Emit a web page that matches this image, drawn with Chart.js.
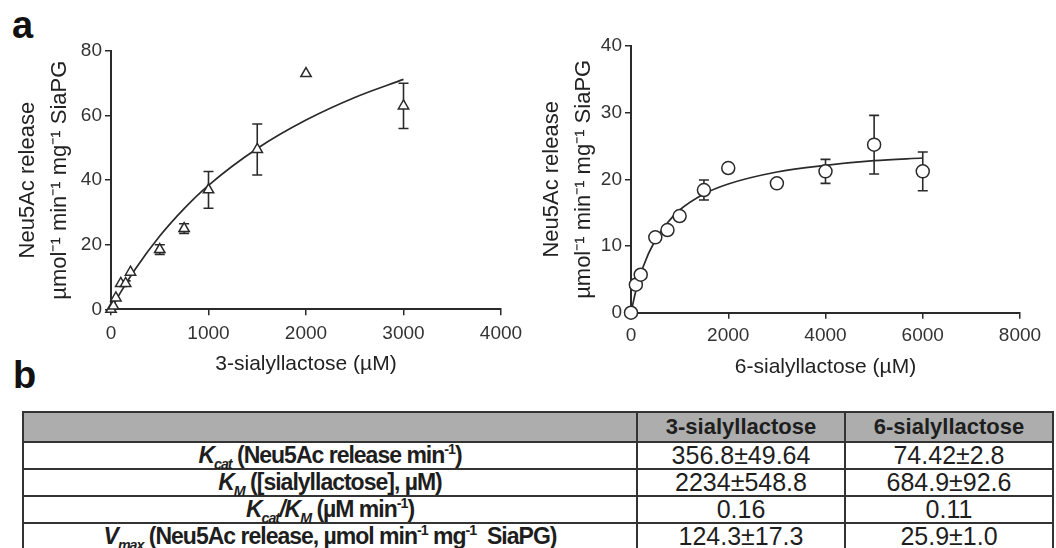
<!DOCTYPE html>
<html>
<head>
<meta charset="utf-8">
<script src="https://cdn.jsdelivr.net/npm/chart.js@4"></script>
<style>
  html, body { margin: 0; padding: 0; background: #fff; }
  body { width: 1056px; height: 548px; position: relative; overflow: hidden;
         font-family: "Liberation Sans", Arial, sans-serif; color: #1e1e1e; }
  .panel { position: absolute; font-weight: bold; font-size: 38px; line-height: 38px; color: #111; }
  #c1 { position: absolute; left: 0; top: 30px; }
  #c2 { position: absolute; left: 520px; top: 30px; }
  table { position: absolute; left: 22px; top: 411px; width: 1030px; border-collapse: collapse; table-layout: fixed; }
  td, th { border: 2px solid #333; padding: 0; text-align: center; white-space: nowrap; }
  th { background: #adadad; height: 28px; line-height: 28px; font-size: 22px; }
  td { height: 25px; line-height: 25px; font-size: 25px; }
  td.lbl { font-weight: bold; font-size: 23px; letter-spacing: -1px; }
  sub, sup { font-size: 62%; line-height: 0; }
</style>
</head>
<body>
<div class="panel" style="left:12px; top:6px;">a</div>
<div class="panel" style="left:13px; top:356px;">b</div>
<canvas id="c1" width="530" height="350"></canvas>
<canvas id="c2" width="536" height="350"></canvas>
<table id="params">
  <colgroup><col style="width:614px"><col style="width:208px"><col style="width:208px"></colgroup>
</table>
<script>
// 3-sialyllactose: measured points, SD, fitted curve
const x3SL = [0, 25, 50, 100, 150, 200, 500, 750, 1000, 1500, 2000, 3000];
const y3SL = [0, 1, 3.5, 8, 8, 11.5, 18.5, 25, 37, 49.5, 73, 63];
const err3SL = [0, 0, 0, 0, 0.8, 0, 1.5, 1.5, 5.7, 7.9, 0, 7];
const fitX3SL = [0, 100, 250, 500, 750, 1000, 1500, 2000, 2500, 3000];
const fitY3SL = [0, 5.3, 12.5, 22.7, 31.2, 38.4, 49.8, 58.6, 65.6, 71.2];

// 6-sialyllactose
const x6SL = [0, 100, 200, 500, 750, 1000, 1500, 2000, 3000, 4000, 5000, 6000];
const y6SL = [0, 4.2, 5.7, 11.3, 12.4, 14.5, 18.4, 21.7, 19.4, 21.2, 25.2, 21.2];
const err6SL = [0, 0, 0, 0, 0, 0, 1.5, 0, 0, 1.8, 4.4, 2.9];
const fitX6SL = [0, 100, 250, 500, 750, 1000, 1500, 2000, 3000, 4000, 5000, 6000];
const fitY6SL = [0, 3.3, 6.9, 10.9, 13.5, 15.4, 17.8, 19.3, 21.1, 22.1, 22.8, 23.2];

// table b
const tableHeader = ['', '3-sialyllactose', '6-sialyllactose'];
const paramLabels = [
  '<i>K<sub>cat</sub></i> (Neu5Ac release min<sup>-1</sup>)',
  '<i>K<sub>M</sub></i> ([sialyllactose], µM)',
  '<i>K<sub>cat</sub>/K<sub>M</sub></i> (µM min<sup>-1</sup>)',
  '<i>V<sub>max</sub></i> (Neu5Ac release, µmol min<sup>-1</sup> mg<sup>-1</sup>&nbsp; SiaPG)'
];
const values3SL = ['356.8±49.64', '2234±548.8', '0.16', '124.3±17.3'];
const values6SL = ['74.42±2.8', '684.9±92.6', '0.11', '25.9±1.0'];

const yTitle = ['Neu5Ac release', 'µmol\u207B\u00B9 min\u207B\u00B9 mg\u207B\u00B9 SiaPG'];

const INK = '#2a2a2a';
const FONT = '"Liberation Sans", Arial, sans-serif';

// build table
const tbl = document.getElementById('params');
let html = '<tr>' + tableHeader.map(h => '<th>' + h + '</th>').join('') + '</tr>';
paramLabels.forEach((lbl, i) => {
  html += '<tr><td class="lbl">' + lbl + '</td><td>' + values3SL[i] + '</td><td>' + values6SL[i] + '</td></tr>';
});
tbl.insertAdjacentHTML('beforeend', html);

// error bars drawn through the chart scales
const errorBars = {
  id: 'errorBars',
  beforeDatasetsDraw(chart) {
    const ctx = chart.ctx;
    const xs = chart.scales.x, ys = chart.scales.y;
    chart.data.datasets.forEach(ds => {
      if (!ds.errors) return;
      ctx.save();
      ctx.strokeStyle = INK;
      ctx.lineWidth = 1.6;
      ds.data.forEach((p, i) => {
        const e = ds.errors[i];
        if (!e) return;
        const px = xs.getPixelForValue(p.x);
        const top = ys.getPixelForValue(p.y + e);
        const bot = ys.getPixelForValue(p.y - e);
        ctx.beginPath();
        ctx.moveTo(px, top); ctx.lineTo(px, bot);
        ctx.moveTo(px - 5, top); ctx.lineTo(px + 5, top);
        ctx.moveTo(px - 5, bot); ctx.lineTo(px + 5, bot);
        ctx.stroke();
      });
      ctx.restore();
    });
  }
};

function toPoints(xs, ys) {
  return xs.map((x, i) => ({ x: x, y: ys[i] }));
}

function makeConfig(o) {
  return {
    type: 'scatter',
    data: {
      datasets: [{
        data: toPoints(o.xs, o.ys),
        errors: o.errs,
        pointStyle: o.marker,
        pointRadius: o.radius,
        pointBorderWidth: 1.5,
        pointBorderColor: INK,
        pointBackgroundColor: '#fff',
        clip: false,
        order: 0
      }, {
        data: toPoints(o.fx, o.fy),
        showLine: true,
        pointRadius: 0,
        borderColor: INK,
        borderWidth: 1.7,
        cubicInterpolationMode: 'monotone',
        order: 1
      }]
    },
    options: {
      responsive: false,
      animation: false,
      devicePixelRatio: 1,
      layout: { padding: o.pad },
      plugins: { legend: { display: false }, tooltip: { enabled: false } },
      scales: {
        x: {
          type: 'linear', min: 0, max: o.xMax,
          afterFit(s) { s.height = o.xHeight; },
          border: { color: INK, width: 2 },
          grid: { drawOnChartArea: false, tickLength: 6, color: INK, lineWidth: 1.5 },
          ticks: { stepSize: o.xStep, padding: o.xTickPad, color: '#333', font: { family: FONT, size: 19 },
                   callback: v => String(v) },
          title: { display: true, text: o.xTitle, color: '#222', padding: { top: 0, bottom: o.xTitlePad },
                   font: { family: FONT, size: 21 } }
        },
        y: {
          min: 0, max: o.yMax,
          afterFit(s) { s.width = 111; },
          border: { color: INK, width: 2 },
          grid: { drawOnChartArea: false, tickLength: 6, color: INK, lineWidth: 1.5 },
          ticks: { stepSize: o.yStep, padding: 3, color: '#333', font: { family: FONT, size: 19 },
                   callback: v => String(v) },
          title: { display: true, text: yTitle, color: '#222', padding: { top: o.yTitlePad, bottom: 0 },
                   font: { family: FONT, size: 22, lineHeight: 1.45 } }
        }
      }
    },
    plugins: [errorBars]
  };
}

new Chart(document.getElementById('c1'), makeConfig({
  xs: x3SL, ys: y3SL, errs: err3SL, fx: fitX3SL, fy: fitY3SL,
  marker: 'triangle', radius: 6,
  xMax: 4000, xStep: 1000, yMax: 80, yStep: 20,
  xTitle: '3-sialyllactose (µM)',
  pad: { top: 21, right: 29, left: 0, bottom: 0 },
  xHeight: 70.7, xTickPad: 7, xTitlePad: 3, yTitlePad: 12
}));

new Chart(document.getElementById('c2'), makeConfig({
  xs: x6SL, ys: y6SL, errs: err6SL, fx: fitX6SL, fy: fitY6SL,
  marker: 'circle', radius: 6.5,
  xMax: 8000, xStep: 2000, yMax: 40, yStep: 10,
  xTitle: '6-sialyllactose (µM)',
  pad: { top: 16, right: 36, left: 0, bottom: 0 },
  xHeight: 67.3, xTickPad: 6, xTitlePad: 0, yTitlePad: 16
}));
</script>
</body>
</html>
